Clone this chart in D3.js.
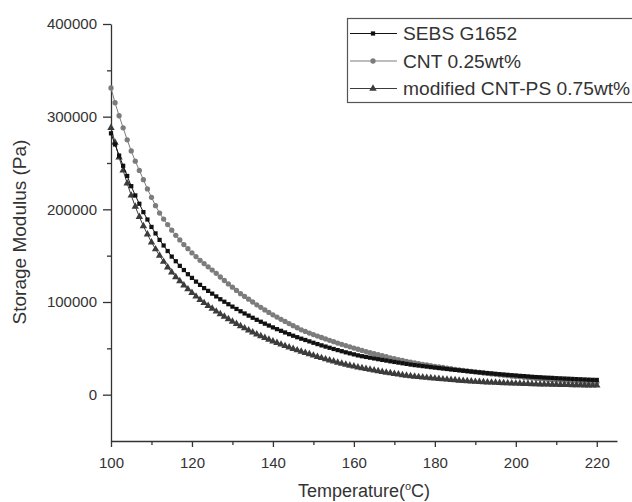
<!DOCTYPE html>
<html>
<head>
<meta charset="utf-8">
<script src="https://cdn.jsdelivr.net/npm/d3@7"></script>
<style>
  body { margin: 0; background: #fff; }
  text { font-family: "Liberation Sans", Arial, sans-serif; fill: #333; }
</style>
</head>
<body>
<svg></svg>
<script>
// temperature (°C)
const temps = [
  100,101,102,103,104,105,106,107,108,109,110,111,112,113,114,115,116,117,118,119,
  120,121,122,123,124,125,126,127,128,129,130,131,132,133,134,135,136,137,138,139,
  140,141,142,143,144,145,146,147,148,149,150,151,152,153,154,155,156,157,158,159,
  160,161,162,163,164,165,166,167,168,169,170,171,172,173,174,175,176,177,178,179,
  180,181,182,183,184,185,186,187,188,189,190,191,192,193,194,195,196,197,198,199,
  200,201,202,203,204,205,206,207,208,209,210,211,212,213,214,215,216,217,218,219,220
];

// storage modulus, in kPa (x1000 = Pa)
const sebs = [
  282,270,258,247,236,225,215,206,197,189,181,174,167,161,155,149,144,139,134.5,130,
  126,122,118.5,115,112,109,106,103,100.3,97.6,95,92.5,90,87.6,85.3,83,80.8,78.7,76.6,74.6,
  72.6,70.7,68.9,67.1,65.3,63.6,62,60.4,59,57.5,56,54.6,53.2,51.9,50.6,49.3,48.1,46.9,45.7,44.6,
  43.5,42.4,41.5,40.7,39.9,39.1,38.3,37.5,36.8,36,35.3,34.6,33.9,33.2,32.5,31.9,31.4,30.8,30.3,29.7,
  29.2,28.7,28.2,27.7,27.2,26.7,26.3,25.8,25.4,24.9,24.5,24.1,23.7,23.3,22.9,22.5,22.1,21.7,21.4,21,
  20.7,20.3,20,19.7,19.3,19,18.8,18.5,18.3,18.1,17.8,17.6,17.4,17.2,17,16.8,16.6,16.4,16.2,16,15.9
];

const cnt = [
  331,315,301,288,275,263,252,242,232,222,213,204,196,189.5,183.5,177.5,172,167,162,157.5,
  153,149,145,141.5,138,134.5,131,127,123.2,119.5,116,112.5,109,106,103,100,97,94.2,91.5,88.8,
  86.2,83.7,81.3,79,76.7,74.4,72.2,70,68.2,66.5,64.9,63.2,61.7,60.1,58.6,57.2,55.7,54.3,53,51.6,
  50.3,49,47.7,46.5,45.3,44.2,43.1,42,40.9,39.8,38.8,37.8,36.9,35.9,35,34.2,33.5,32.7,32,31.3,
  30.6,30,29.3,28.7,28,27.4,26.8,26.2,25.6,25.1,24.5,24,23.4,22.9,22.4,21.9,21.4,21,20.5,20,
  19.6,19.2,18.8,18.3,17.9,17.5,17.2,16.9,16.5,16.2,15.9,15.6,15.3,15,14.7,14.4,14.2,13.9,13.7,13.5,13.4
];

const modPS = [
  288,272,256,242,228,215,203,192,182,173,164.5,157,150,143.5,137.5,132,127,122.5,118,113.8,
  109.8,106,102.4,99,95.9,92.8,89.8,87,84.2,81.5,78.9,76.4,74,71.7,69.4,67.3,65.2,63.2,61.3,59.4,
  57.6,55.9,54.2,52.6,51,49.5,48,46.6,45.1,43.7,42.3,40.9,39.6,38.3,37.1,35.9,34.7,33.6,32.5,31.5,
  30.5,29.5,28.6,27.8,27,26.2,25.4,24.7,23.9,23.2,22.5,21.9,21.2,20.6,20,19.6,19.1,18.7,18.3,17.9,
  17.5,17.1,16.7,16.4,16,15.7,15.3,15,14.7,14.3,14,13.8,13.6,13.4,13.2,13,12.8,12.6,12.4,12.3,
  12.1,11.9,11.8,11.6,11.5,11.3,11.2,11.1,11,10.9,10.8,10.7,10.6,10.5,10.4,10.3,10.2,10.15,10.1,10,10
];

const seriesNames = ["SEBS G1652", "CNT 0.25wt%", "modified CNT-PS 0.75wt%"];
const xTicks = [100, 120, 140, 160, 180, 200, 220];
const xMinor = [110, 130, 150, 170, 190, 210];
const yTicks = [0, 100000, 200000, 300000, 400000];
const yMinor = [50000, 150000, 250000, 350000];

const svg = d3.select("svg").attr("width", 632).attr("height", 502);

const x = d3.scaleLinear().domain([100, 225]).range([111, 617]);
const y = d3.scaleLinear().domain([-50000, 400000]).range([441, 24]);

const series = [
  {name: seriesNames[1], values: cnt, color: "#7c7c7c", shape: d3.symbolCircle, size: 22},
  {name: seriesNames[2], values: modPS, color: "#3c3c3c", shape: d3.symbolTriangle, size: 24},
  {name: seriesNames[0], values: sebs, color: "#111", shape: d3.symbolSquare, size: 18}
];

// axes
const axisColor = "#333";
svg.append("g")
    .attr("transform", "translate(0,441)")
    .call(d3.axisBottom(x).tickValues(xTicks).tickSize(6).tickSizeOuter(0).tickPadding(10).tickFormat(d3.format("d")));
svg.append("g")
    .attr("transform", "translate(0,441)")
    .call(d3.axisBottom(x).tickValues(xMinor).tickSize(4).tickFormat(""))
    .select(".domain").remove();

svg.append("g")
    .attr("transform", "translate(111,0)")
    .call(d3.axisLeft(y).tickValues(yTicks).tickSize(8).tickSizeOuter(0).tickPadding(6).tickFormat(d3.format("d")));
svg.append("g")
    .attr("transform", "translate(111,0)")
    .call(d3.axisLeft(y).tickValues(yMinor).tickSize(4).tickFormat(""))
    .select(".domain").remove();

svg.selectAll(".domain, .tick line").attr("stroke", axisColor).attr("stroke-width", 1.3);
svg.selectAll(".tick text").attr("font-size", 15).attr("font-family", "Liberation Sans, Arial, sans-serif").attr("fill", "#333");

// axis titles
svg.append("text")
    .attr("transform", "translate(26,232) rotate(-90)")
    .attr("text-anchor", "middle")
    .attr("font-size", 19)
    .text("Storage Modulus (Pa)");

const xt = svg.append("text")
    .attr("x", 364)
    .attr("y", 497)
    .attr("text-anchor", "middle")
    .attr("font-size", 18);
xt.append("tspan").text("Temperature(");
xt.append("tspan").attr("font-size", 11).attr("dy", -7).text("o");
xt.append("tspan").attr("dy", 7).text("C)");

// curves
const line = d3.line()
    .x((d, i) => x(temps[i]))
    .y(d => y(d * 1000));

series.forEach(s => {
  const g = svg.append("g");
  g.append("path")
      .datum(s.values)
      .attr("fill", "none")
      .attr("stroke", s.color)
      .attr("stroke-width", 1)
      .attr("d", line);
  g.selectAll("path.pt")
      .data(s.values)
      .enter().append("path")
      .attr("class", "pt")
      .attr("transform", (d, i) => "translate(" + x(temps[i]) + "," + y(d * 1000) + ")")
      .attr("d", d3.symbol().type(s.shape).size(s.size))
      .attr("fill", s.color);
});

// legend
const legendRows = [
  {name: seriesNames[0], color: "#111", shape: d3.symbolSquare, size: 18},
  {name: seriesNames[1], color: "#7c7c7c", shape: d3.symbolCircle, size: 22},
  {name: seriesNames[2], color: "#3c3c3c", shape: d3.symbolTriangle, size: 24}
];

const legend = svg.append("g");
legend.append("rect")
    .attr("x", 347.5).attr("y", 18.5)
    .attr("width", 320).attr("height", 84)
    .attr("fill", "#fff")
    .attr("stroke", "#555")
    .attr("stroke-width", 1.2);

const row = legend.selectAll("g.row")
    .data(legendRows)
    .enter().append("g")
    .attr("class", "row")
    .attr("transform", (d, i) => "translate(0," + (33.5 + i * 27.5) + ")");

row.append("line")
    .attr("x1", 350).attr("x2", 397)
    .attr("stroke", d => d.color)
    .attr("stroke-width", 1);
row.append("path")
    .attr("transform", "translate(373,0)")
    .attr("d", d => d3.symbol().type(d.shape).size(d.size)())
    .attr("fill", d => d.color);
row.append("text")
    .attr("x", 403)
    .attr("dy", "0.35em")
    .attr("font-size", 19.2)
    .text(d => d.name);
</script>
</body>
</html>
